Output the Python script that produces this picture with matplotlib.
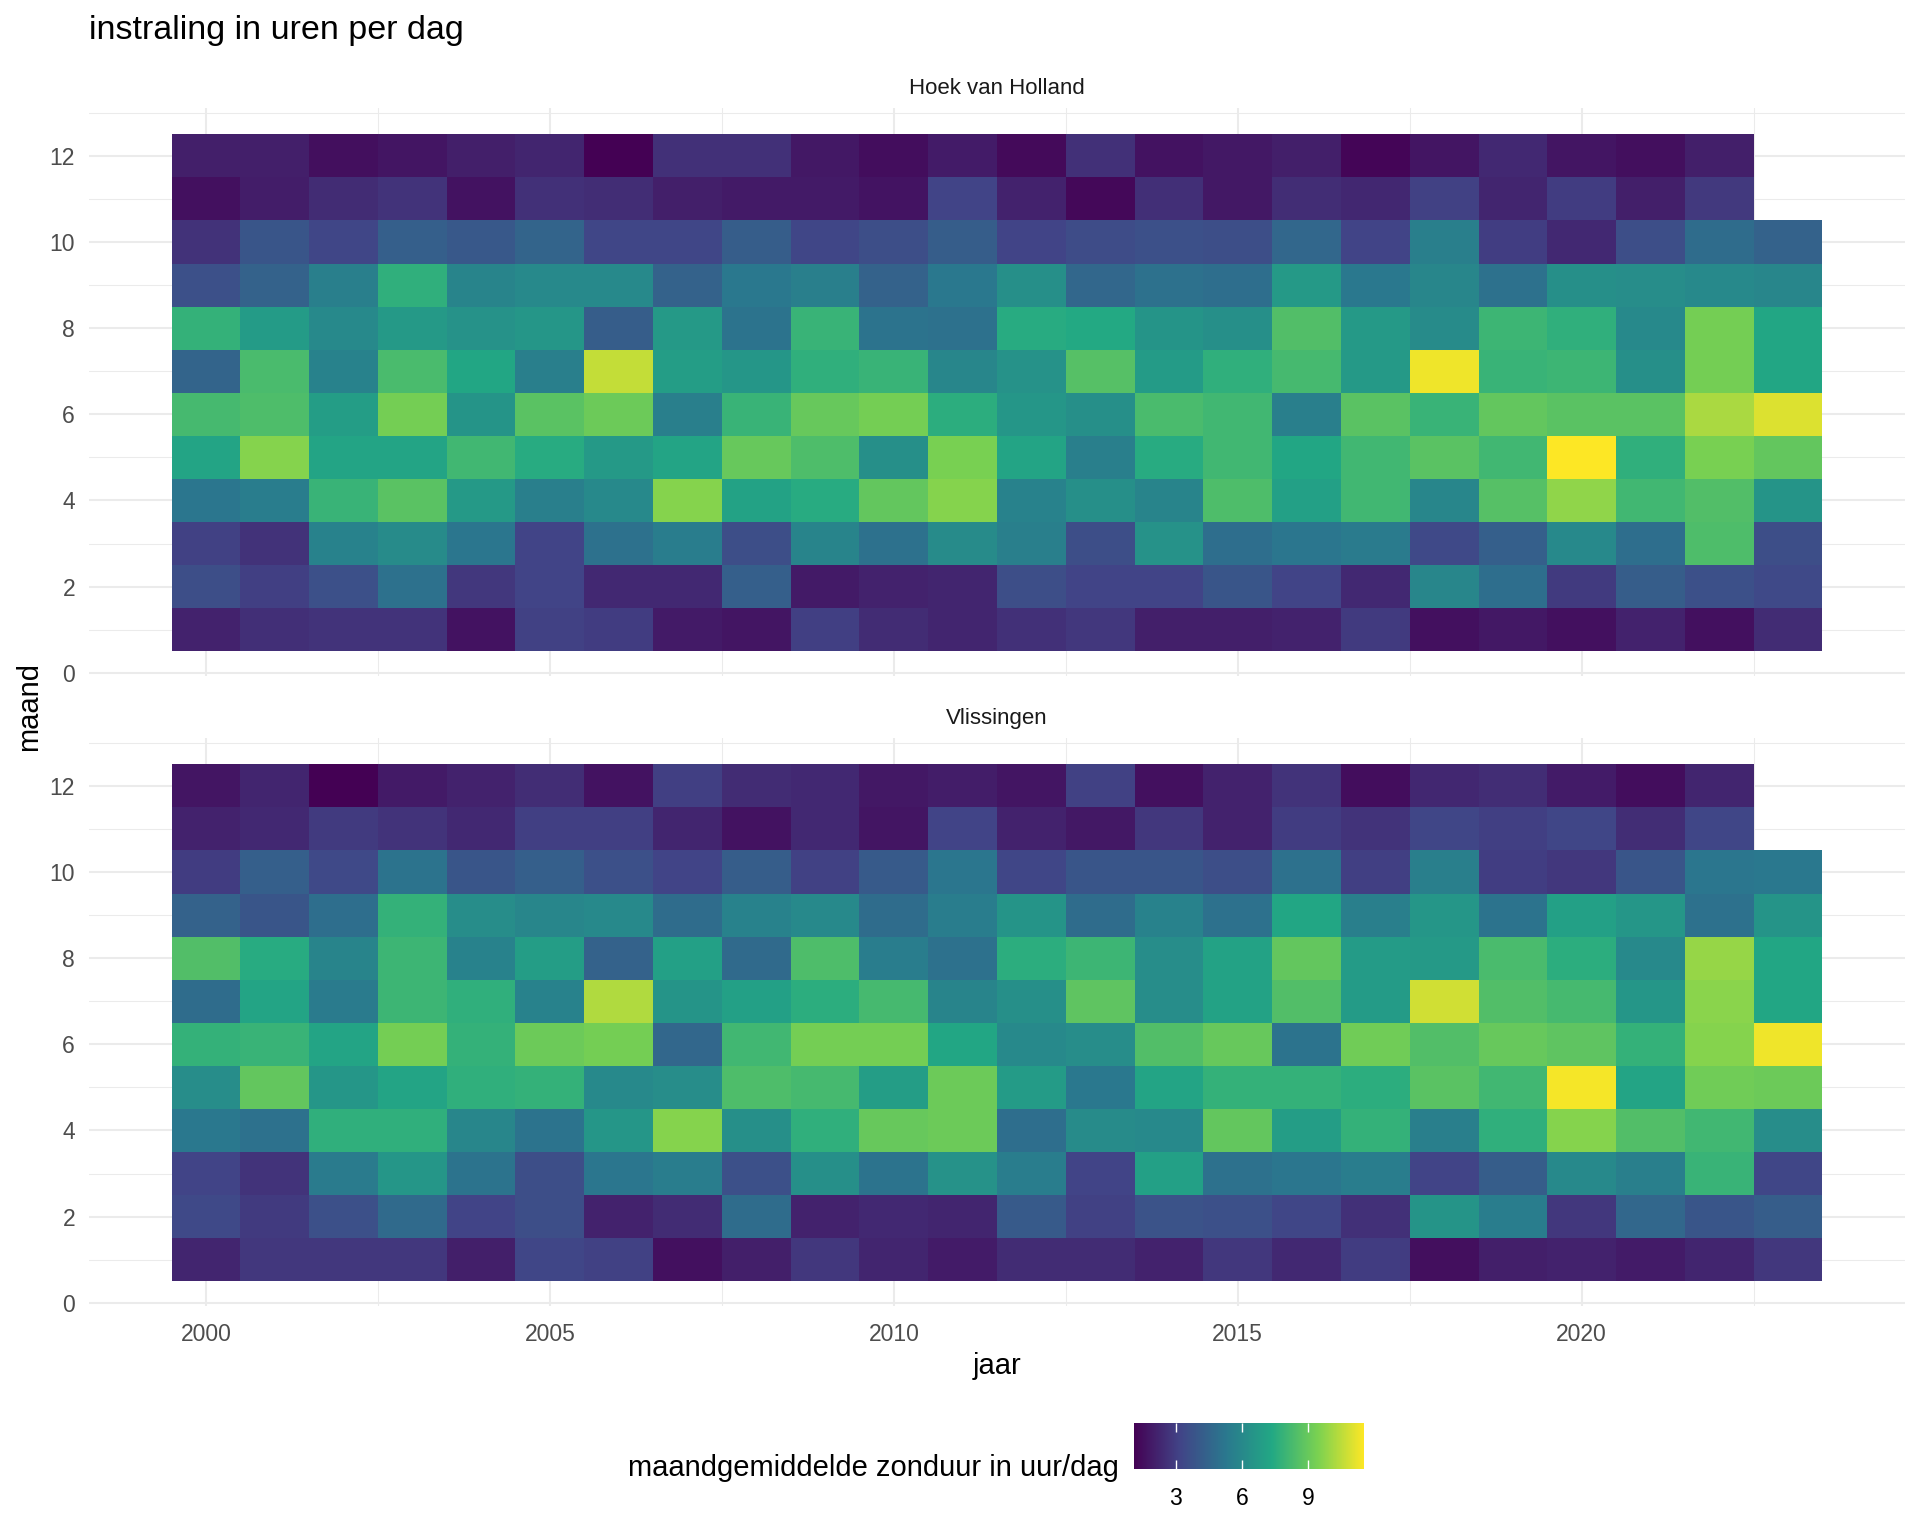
import numpy as np
import matplotlib
matplotlib.use('Agg')
import matplotlib.pyplot as plt
from matplotlib.colors import LinearSegmentedColormap

plt.rcParams['font.family'] = ['Liberation Sans', 'DejaVu Sans']

years = list(range(2000, 2024))
months = list(range(1, 13))
n = np.nan

# maandgemiddelde zonduur, one list per month (2000..2023)
hvh_jan = [2.15, 2.55, 2.7, 2.7, 1.65, 3.1, 2.95, 1.9, 1.75, 3.05, 2.45, 2.25, 2.6, 2.8, 2.05, 2.05, 2.15, 2.9, 1.6, 1.85, 1.6, 2.15, 1.6, 2.45]
hvh_feb = [3.6, 3.05, 3.7, 5.0, 2.8, 3.2, 2.35, 2.35, 4.3, 1.9, 2.15, 2.25, 3.6, 3.2, 3.2, 3.9, 3.2, 2.35, 5.9, 4.9, 2.9, 4.2, 3.7, 3.4]
hvh_mar = [3.1, 2.65, 5.7, 6.1, 5.2, 3.2, 5.0, 5.5, 3.6, 5.8, 5.0, 6.1, 5.6, 3.6, 6.4, 4.9, 5.2, 5.4, 3.4, 4.3, 6.0, 4.9, 8.4, 3.6]
hvh_apr = [5.2, 5.5, 7.9, 8.7, 6.7, 5.6, 6.0, 9.6, 7.1, 7.5, 8.9, 9.6, 5.7, 6.3, 5.8, 8.4, 7.0, 8.1, 5.9, 8.6, 9.8, 8.1, 8.5, 6.5]
hvh_may = [7.2, 9.6, 7.2, 7.2, 8.1, 7.5, 6.7, 7.2, 9.0, 8.4, 6.3, 9.4, 7.2, 5.6, 7.5, 8.1, 7.3, 8.1, 8.7, 8.1, 11.53, 7.7, 9.4, 8.9]
hvh_jun = [8.2, 8.4, 6.9, 9.3, 6.5, 8.7, 9.1, 5.6, 7.9, 9.0, 9.3, 7.6, 6.6, 6.3, 8.3, 8.1, 5.6, 8.7, 7.9, 8.9, 8.7, 8.7, 10.2, 11.0]
hvh_jul = [4.5, 8.3, 5.7, 8.3, 7.3, 5.6, 10.6, 6.9, 6.6, 7.7, 7.9, 5.9, 6.4, 8.6, 6.8, 7.7, 8.2, 6.7, 11.3, 7.9, 8.0, 6.3, 9.3, 7.3]
hvh_aug = [7.8, 6.8, 6.0, 6.7, 6.4, 6.6, 4.2, 6.7, 5.1, 7.9, 5.1, 5.0, 7.5, 7.4, 6.5, 6.3, 8.5, 6.7, 6.1, 8.0, 7.7, 6.0, 9.3, 7.3]
hvh_sep = [3.7, 4.4, 5.6, 7.7, 5.8, 6.0, 6.0, 4.4, 5.3, 5.6, 4.4, 5.3, 6.3, 4.6, 5.0, 4.9, 6.7, 5.3, 5.9, 5.0, 6.3, 6.2, 6.0, 5.9]
hvh_oct = [2.65, 3.9, 3.3, 4.3, 4.0, 4.5, 3.3, 3.3, 4.2, 3.3, 3.6, 4.2, 3.2, 3.5, 3.7, 3.6, 4.6, 3.2, 5.6, 3.0, 2.35, 3.6, 4.8, 4.4]
hvh_nov = [1.6, 2.0, 2.45, 2.7, 1.65, 2.6, 2.5, 2.05, 1.9, 1.9, 1.7, 3.2, 2.15, 1.35, 2.55, 1.85, 2.5, 2.3, 3.1, 2.25, 2.95, 2.05, 2.85, n]
hvh_dec = [2.05, 2.05, 1.55, 1.75, 2.05, 2.25, 1.12, 2.6, 2.6, 1.85, 1.5, 1.95, 1.4, 2.6, 1.65, 1.85, 2.05, 1.25, 1.75, 2.35, 1.75, 1.55, 2.05, n]

vls_jan = [2.25, 2.8, 2.8, 2.8, 2.05, 3.3, 3.1, 1.6, 2.05, 2.8, 2.25, 1.95, 2.45, 2.45, 2.15, 2.8, 2.35, 2.95, 1.55, 2.05, 2.15, 1.95, 2.25, 2.8]
vls_feb = [3.4, 2.9, 3.7, 4.7, 3.2, 3.6, 2.15, 2.45, 4.8, 2.15, 2.35, 2.25, 4.1, 3.1, 3.8, 3.7, 3.3, 2.6, 6.5, 5.5, 2.8, 4.6, 3.9, 4.2]
vls_mar = [3.2, 2.7, 5.4, 6.6, 5.1, 3.6, 5.2, 5.5, 3.7, 6.3, 5.1, 6.4, 5.5, 3.2, 7.0, 5.0, 5.2, 5.5, 3.2, 4.2, 6.0, 5.6, 7.9, 3.3]
vls_apr = [5.3, 5.0, 7.7, 7.7, 5.9, 5.1, 6.6, 9.6, 6.3, 7.7, 9.0, 9.1, 4.9, 6.1, 6.0, 8.9, 6.9, 7.8, 5.6, 7.7, 9.6, 8.5, 8.1, 6.2]
vls_may = [6.2, 8.9, 6.6, 7.2, 7.7, 7.8, 6.0, 6.2, 8.4, 8.2, 6.9, 9.1, 6.8, 5.3, 7.2, 7.8, 7.8, 7.6, 8.7, 8.1, 11.4, 7.2, 9.2, 9.1]
vls_jun = [7.8, 7.9, 7.2, 9.3, 7.8, 9.1, 9.3, 4.6, 8.1, 9.3, 9.3, 7.3, 6.0, 6.2, 8.5, 9.0, 5.1, 9.2, 8.5, 9.0, 8.8, 7.8, 9.6, 11.3]
vls_jul = [4.8, 7.2, 5.4, 8.0, 7.7, 5.7, 10.3, 6.5, 7.0, 7.6, 8.2, 5.8, 6.3, 8.8, 6.2, 7.1, 8.5, 6.8, 10.8, 8.5, 8.2, 6.6, 9.7, 7.3]
vls_aug = [8.5, 7.5, 5.8, 8.0, 5.7, 6.9, 4.4, 7.0, 4.7, 8.4, 5.5, 5.0, 7.6, 8.0, 6.2, 7.1, 8.9, 6.8, 6.7, 8.3, 7.6, 6.0, 9.9, 7.3]
vls_sep = [4.4, 3.9, 4.9, 7.8, 6.2, 5.9, 6.0, 4.8, 5.7, 6.0, 4.8, 5.5, 6.5, 4.8, 5.7, 5.0, 7.3, 5.6, 6.6, 5.1, 7.0, 6.6, 5.0, 6.5]
vls_oct = [2.95, 4.3, 3.4, 5.1, 3.9, 4.3, 3.7, 3.2, 4.2, 3.1, 4.1, 5.2, 3.3, 3.9, 3.9, 3.6, 5.0, 3.05, 5.6, 3.0, 2.8, 3.9, 5.2, 5.3]
vls_nov = [2.15, 2.35, 2.9, 2.7, 2.35, 3.05, 3.05, 2.25, 1.65, 2.35, 1.75, 3.2, 2.15, 1.85, 2.8, 2.15, 2.95, 2.7, 3.3, 3.05, 3.3, 2.5, 3.3, n]
vls_dec = [1.75, 2.25, 1.12, 1.9, 2.15, 2.5, 1.65, 3.05, 2.45, 2.35, 1.85, 2.0, 1.75, 3.1, 1.6, 2.15, 2.7, 1.5, 2.3, 2.5, 1.95, 1.5, 2.25, n]

hvh = [hvh_jan, hvh_feb, hvh_mar, hvh_apr, hvh_may, hvh_jun, hvh_jul, hvh_aug, hvh_sep, hvh_oct, hvh_nov, hvh_dec]
vls = [vls_jan, vls_feb, vls_mar, vls_apr, vls_may, vls_jun, vls_jul, vls_aug, vls_sep, vls_oct, vls_nov, vls_dec]

stations = ['Hoek van Holland', 'Vlissingen']
fill_min, fill_max = 1.12, 11.53
legend_ticks = [3, 6, 9]

W, H = 1920, 1536
GRID = '#EBEBEB'
cmap = LinearSegmentedColormap.from_list(
    'vir6', ['#440154', '#414487', '#2A788E', '#22A884', '#7AD151', '#FDE725'], N=512)


def box(x0, y0, x1, y1):
    # pixel box (y from the top) to figure fractions
    return [x0 / W, 1 - y1 / H, (x1 - x0) / W, (y1 - y0) / H]


fig = plt.figure(figsize=(W / 100, H / 100), dpi=100)
panels = [(108, 676), (738, 1306)]
x_edges = np.array(years + [years[-1] + 1]) - 0.5
y_edges = np.array(months + [months[-1] + 1]) - 0.5

for i, (data, (top, bottom)) in enumerate(zip([hvh, vls], panels)):
    ax = fig.add_axes(box(89, top, 1905, bottom))
    mesh = ax.pcolormesh(x_edges, y_edges, np.ma.masked_invalid(np.array(data)),
                         cmap=cmap, vmin=fill_min, vmax=fill_max, linewidth=0, zorder=3)
    ax.set_xlim(1998.3, 2024.7)
    ax.set_ylim(-0.075, 13.11)
    ax.set_xticks([2000, 2005, 2010, 2015, 2020])
    ax.set_xticks([2002.5, 2007.5, 2012.5, 2017.5, 2022.5], minor=True)
    ax.set_yticks(range(0, 13, 2))
    ax.set_yticks(range(1, 14, 2), minor=True)
    ax.grid(True, which='major', color=GRID, lw=1.5)
    ax.grid(True, which='minor', color=GRID, lw=0.75)
    ax.set_axisbelow(True)
    for s in ax.spines.values():
        s.set_visible(False)
    ax.tick_params(which='both', length=0)
    ax.tick_params(axis='both', labelsize=16.5, labelcolor='#4D4D4D')
    ax.tick_params(axis='y', pad=10)
    ax.tick_params(axis='x', pad=12, labelbottom=(i == 1))
    fig.text(997 / W, 1 - (89 if i == 0 else 718) / H, stations[i],
             fontsize=16, color='#1A1A1A', ha='center', va='center')

fig.text(89 / W, 1 - 31 / H, 'instraling in uren per dag', fontsize=24.5, ha='left', va='center')
fig.text(997 / W, 1 - 1366 / H, 'jaar', fontsize=21, ha='center', va='center')
fig.text(29 / W, 1 - 706 / H, 'maand', fontsize=21, rotation=90, ha='center', va='center')
fig.text(1119 / W, 1 - 1468 / H, 'maandgemiddelde zonduur in uur/dag', fontsize=21, ha='right', va='center')

# legend bar
cax = fig.add_axes(box(1134, 1423, 1364, 1469))
cb = fig.colorbar(mesh, cax=cax, orientation='horizontal', ticks=legend_ticks)
cb.outline.set_visible(False)
cax.tick_params(length=0, pad=13, labelsize=16.5, labelcolor='black')
trans = cax.get_xaxis_transform()
cax.vlines(legend_ticks, 0, 0.2, colors='white', lw=1, transform=trans)
cax.vlines(legend_ticks, 0.8, 1, colors='white', lw=1, transform=trans)

fig.savefig('out.png', dpi=100)
